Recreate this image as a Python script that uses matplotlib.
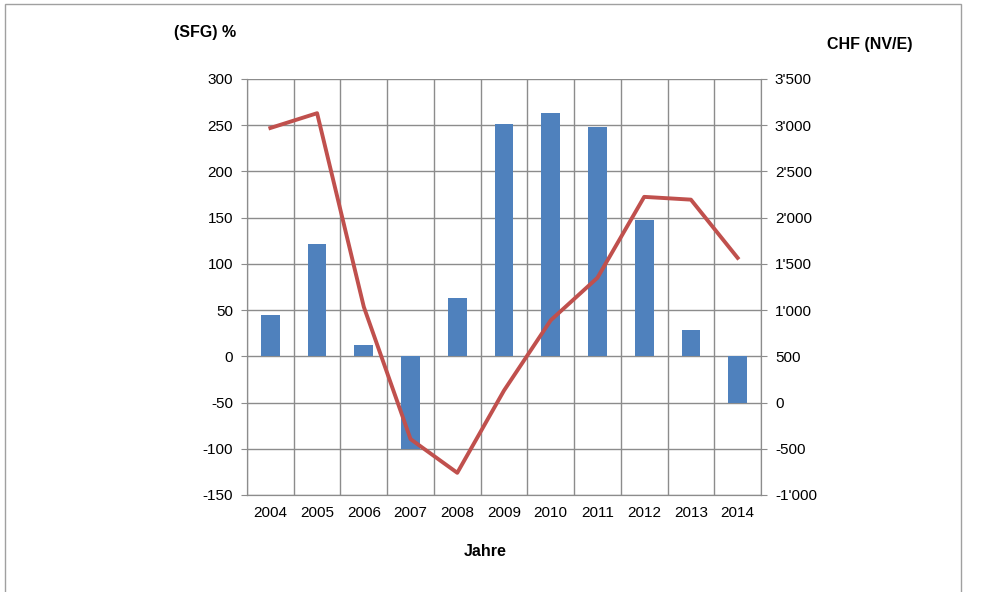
import matplotlib.pyplot as plt
from matplotlib.patches import Rectangle
from matplotlib.ticker import FuncFormatter

plt.rcParams['font.family'] = ['Liberation Sans', 'DejaVu Sans']
plt.rcParams['axes.unicode_minus'] = False

years = [2004, 2005, 2006, 2007, 2008, 2009, 2010, 2011, 2012, 2013, 2014]
sfg_pct = [45, 122, 12, -100, 63, 251, 263, 248, 147, 28, -50]
chf_nve = [2970, 3130, 1035, -395, -760, 130, 890, 1350, 2225, 2195, 1565]

fig = plt.figure(figsize=(9.81, 5.92), dpi=100)
ax = fig.add_axes([247/981, 1 - 495/592, (761 - 247)/981, (495 - 79)/592])
ax2 = ax.twinx()

x = list(range(len(years)))
ax.bar(x, sfg_pct, width=0.4, color='#4F81BD', zorder=3)
ax2.plot(x, chf_nve, color='#C0504D', lw=2.8, zorder=4)

ax.set_xlim(-0.5, len(years) - 0.5)
ax.set_ylim(-150, 300)
ax.set_yticks(range(-150, 301, 50))
ax2.set_ylim(-1000, 3500)
ax2.set_yticks(range(-1000, 3501, 500))
ax2.yaxis.set_major_formatter(FuncFormatter(lambda v, p: f"{int(v):,}".replace(',', "'")))

ax.set_xticks(x)
ax.set_xticklabels([str(y) for y in years])
ax.set_xticks([i - 0.5 for i in range(len(years) + 1)], minor=True)

grid_c = '#8c8c8c'
ax.grid(axis='y', which='major', color=grid_c, lw=1, zorder=0)
ax.grid(axis='x', which='minor', color=grid_c, lw=1, zorder=0)
ax.set_axisbelow(True)

for a in (ax, ax2):
    for s in a.spines.values():
        s.set_color(grid_c)
    a.spines['top'].set_visible(False)
ax.tick_params(axis='y', length=4, color=grid_c, labelsize=11, pad=6)
ax.tick_params(axis='x', which='both', length=0, labelsize=11, pad=8)
ax2.tick_params(axis='y', length=4, color=grid_c, labelsize=11, pad=6)

fig.text(205/981, 1 - 32/592, '(SFG) %', ha='center', va='center', fontsize=11.5, fontweight='bold')
fig.text(870/981, 1 - 44/592, 'CHF (NV/E)', ha='center', va='center', fontsize=11.5, fontweight='bold')
fig.text(485/981, 1 - 552/592, 'Jahre', ha='center', va='center', fontsize=11.5, fontweight='bold')

fig.patches.append(Rectangle((5/981, -0.05), (961 - 5)/981, 1.05 - 4/592,
                             transform=fig.transFigure, fill=False, ec='#a0a0a0', lw=1))

fig.savefig('out.png', dpi=100)
